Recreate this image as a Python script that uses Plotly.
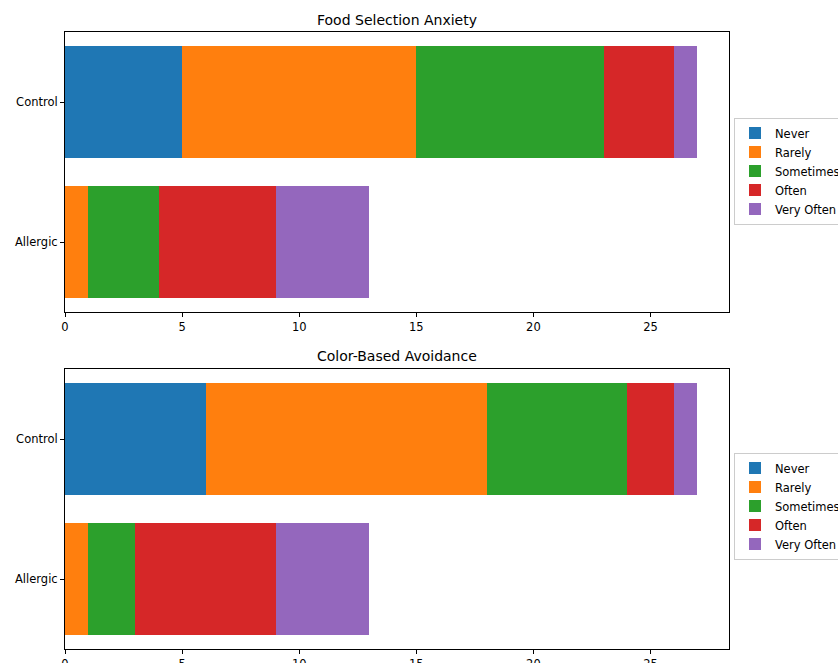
import plotly.graph_objects as go

groups = ["Allergic", "Control"]
responses = ["Never", "Rarely", "Sometimes", "Often", "Very Often"]
colors = ["#1f77b4", "#ff7f0e", "#2ca02c", "#d62728", "#9467bd"]

# values per response: [Allergic, Control]
anxiety = {
    "Never": [0, 5],
    "Rarely": [1, 10],
    "Sometimes": [3, 8],
    "Often": [5, 3],
    "Very Often": [4, 1],
}
avoidance = {
    "Never": [0, 6],
    "Rarely": [1, 12],
    "Sometimes": [2, 6],
    "Often": [6, 2],
    "Very Often": [4, 1],
}
titles = ["Food Selection Anxiety", "Color-Based Avoidance"]
xticks = [0, 5, 10, 15, 20, 25]

W, H = 838, 663
TICK_FS = 11.5
TITLE_FS = 14
fig = go.Figure()

ypos = [0, 1]
for i, data in enumerate([anxiety, avoidance]):
    xa = "x" if i == 0 else "x2"
    ya = "y" if i == 0 else "y2"
    lg = "legend" if i == 0 else "legend2"
    for r, c in zip(responses, colors):
        fig.add_trace(go.Bar(
            y=ypos, x=data[r], orientation="h", name=r,
            marker=dict(color=c, line=dict(width=0)),
            width=0.8, xaxis=xa, yaxis=ya, legend=lg,
        ))

x0, x1 = 65 / W, 729 / W
top_dom = [1 - 312 / H, 1 - 32 / H]
bot_dom = [1 - 649 / H, 1 - 369 / H]

axis_common = dict(
    showline=True, linecolor="black", linewidth=1, mirror=True,
    ticks="outside", ticklen=4, tickcolor="black", showgrid=False,
    zeroline=False, automargin=False,
    tickfont=dict(family="DejaVu Sans", size=TICK_FS, color="black"),
)
xmax = 27 * 1.05

legend_common = dict(
    x=734 / W, xanchor="left", yanchor="middle",
    bordercolor="#cccccc", borderwidth=1, bgcolor="white",
    font=dict(family="DejaVu Sans", size=TICK_FS, color="black"),
    traceorder="normal", tracegroupgap=0,
)

fig.update_layout(
    width=W, height=H,
    margin=dict(l=0, r=0, t=0, b=0, autoexpand=False),
    paper_bgcolor="white", plot_bgcolor="white",
    barmode="stack", bargap=0,
    font=dict(family="DejaVu Sans", size=TICK_FS, color="black"),
    xaxis=dict(domain=[x0, x1], anchor="y", range=[0, xmax],
               tickvals=xticks, **axis_common),
    yaxis=dict(domain=top_dom, anchor="x", range=[-0.5, 1.5],
               tickvals=ypos, ticktext=groups, **axis_common),
    xaxis2=dict(domain=[x0, x1], anchor="y2", range=[0, xmax],
                tickvals=xticks, **axis_common),
    yaxis2=dict(domain=bot_dom, anchor="x2", range=[-0.5, 1.5],
                tickvals=ypos, ticktext=groups, **axis_common),
    legend=dict(y=1 - 171 / H, **legend_common),
    legend2=dict(y=1 - 506 / H, **legend_common),
    annotations=[
        dict(text=titles[0], x=(x0 + x1) / 2, y=1 - 20 / H, xref="paper", yref="paper",
             showarrow=False, font=dict(family="DejaVu Sans", size=TITLE_FS, color="black"),
             xanchor="center", yanchor="middle"),
        dict(text=titles[1], x=(x0 + x1) / 2, y=1 - 356 / H, xref="paper", yref="paper",
             showarrow=False, font=dict(family="DejaVu Sans", size=TITLE_FS, color="black"),
             xanchor="center", yanchor="middle"),
    ],
)

fig.write_html(
    "out.html",
    config={"displayModeBar": False},
    post_script="document.body.style.margin='0';document.body.style.overflow='hidden';",
)
